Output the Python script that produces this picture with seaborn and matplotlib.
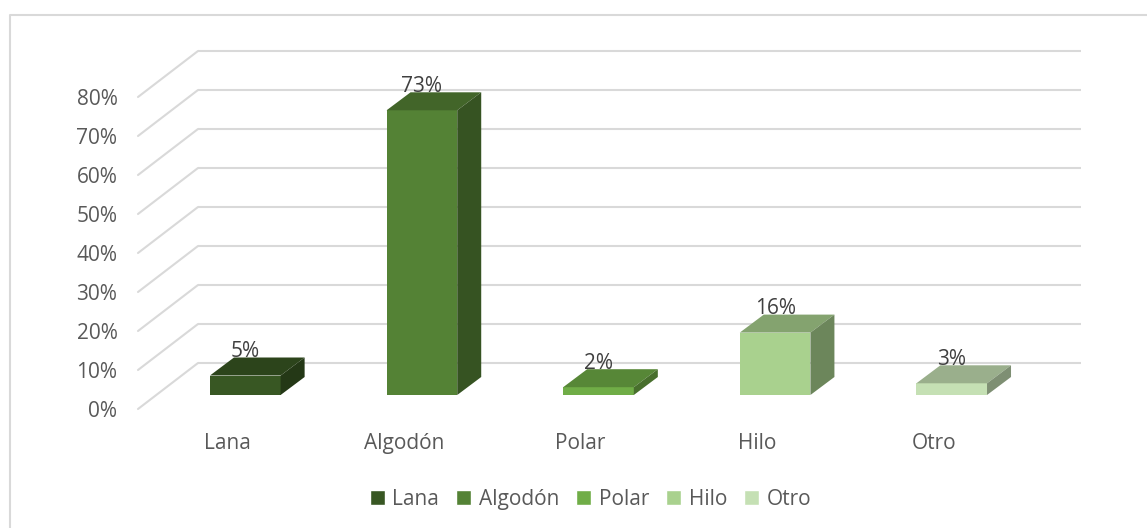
import matplotlib
matplotlib.use("Agg")
import matplotlib.pyplot as plt
import matplotlib.colors as mc
from matplotlib.lines import Line2D
from matplotlib.patches import Polygon
from matplotlib.transforms import ScaledTranslation
import seaborn as sns
import pandas as pd

categories = ["Lana", "Algodón", "Polar", "Hilo", "Otro"]
values = [5, 73, 2, 16, 3]
value_labels = ["5%", "73%", "2%", "16%", "3%"]
colors = ["#385723", "#548235", "#70AD47", "#A9D18E", "#C5E0B4"]
y_ticks = [0, 10, 20, 30, 40, 50, 60, 70, 80]
y_tick_labels = ["0%", "10%", "20%", "30%", "40%", "50%", "60%", "70%", "80%"]

W, H, DPI = 1147, 528, 100
FONT = "Open Sans"
FS = 15
sns.set_theme(style="white")
plt.rcParams["font.family"] = [FONT, "DejaVu Sans"]

fig = plt.figure(figsize=(W / DPI, H / DPI), dpi=DPI)
ax = fig.add_axes([157 / W, 1 - 395 / H, (1040 - 157) / W, 312 / H])
df = pd.DataFrame({"cat": categories, "val": values})
sns.barplot(data=df, x="cat", y="val", hue="cat", order=categories, hue_order=categories,
            palette=colors, width=0.4, dodge=False, saturation=1, ax=ax, legend=True, zorder=3)
ax.set_xlim(-0.5, 4.5)
ax.set_ylim(0, 80)
ax.set_xlabel("")
ax.set_ylabel("")
for s in ax.spines.values():
    s.set_visible(False)
ax.patch.set_visible(False)


def px(dx, dy):
    return ScaledTranslation(dx / DPI, dy / DPI, fig.dpi_scale_trans)


GRID = "#D9D9D9"
back = ax.get_yaxis_transform() + px(41, 32)
for t in y_ticks:
    ax.plot([0, 1], [t, t], transform=back, color=GRID, lw=1.5, zorder=1, clip_on=False, solid_capstyle="butt")
    p0 = ax.transData.transform((-0.5, t))
    ax.annotate("", xy=(p0[0] + 41, p0[1] + 32), xycoords="figure pixels",
                xytext=(p0[0] - 19, p0[1] - 14), textcoords="figure pixels",
                arrowprops=dict(arrowstyle="-", color=GRID, lw=1.5, shrinkA=0, shrinkB=0), zorder=1)

DX, DY = 24, 18
bars = [p for p in ax.patches if p.get_height() > 0]
for bar, label, c in zip(bars, value_labels, colors):
    bar.set_edgecolor(c)
    bar.set_linewidth(0)
    x0, y0 = ax.transData.transform((bar.get_x(), 0))
    x1, y1 = ax.transData.transform((bar.get_x() + bar.get_width(), bar.get_height()))
    rgb = mc.to_rgb(c)
    top = tuple(v * 0.78 for v in rgb)
    side = tuple(v * 0.64 for v in rgb)
    fig.add_artist(Polygon([(x0, y1), (x1, y1), (x1 + DX, y1 + DY), (x0 + DX, y1 + DY)],
                           closed=True, transform=None, fc=top, ec="none", zorder=2.5))
    fig.add_artist(Polygon([(x1, y0), (x1 + DX, y0 + DY), (x1 + DX, y1 + DY), (x1, y1)],
                           closed=True, transform=None, fc=side, ec="none", zorder=2.5))
    fig.text((x0 + x1) / 2 / W, (y1 + 24) / H, label, ha="center", va="center",
             fontsize=FS, color="#404040", zorder=4)

ax.set_yticks(y_ticks, y_tick_labels)
ax.set_xticks(range(len(categories)), categories)
ax.tick_params(axis="y", length=0, pad=28.5, labelsize=FS, labelcolor="#595959")
ax.tick_params(axis="x", length=0, pad=19, labelsize=FS, labelcolor="#595959")
for lab in ax.get_yticklabels():
    lab.set_transform(lab.get_transform() + px(0, -14))
for lab in ax.get_xticklabels():
    lab.set_transform(lab.get_transform() + px(-18, -12))

sns.move_legend(ax, "center", bbox_to_anchor=(590.5 / W, 1 - 499.5 / H), bbox_transform=fig.transFigure,
                ncol=5, frameon=False, title=None, fontsize=FS, handlelength=0.72, handleheight=0.72,
                handletextpad=0.35, columnspacing=0.83, labelcolor="#595959")

# chart frame: only the left and top edges fall inside the picture
fig.add_artist(Line2D([9.5 / W, 9.5 / W, 1], [0, 1 - 15 / H, 1 - 15 / H], transform=fig.transFigure,
                      color=GRID, lw=1.5, zorder=0))
fig.savefig("out.png", dpi=DPI)
